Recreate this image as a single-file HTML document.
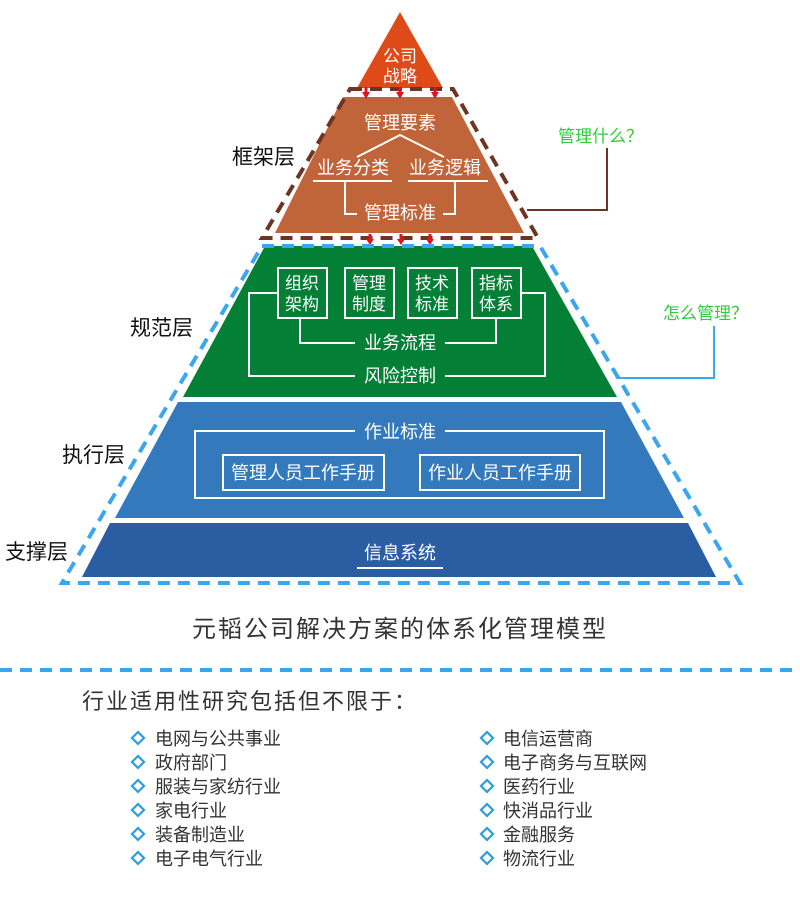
<!DOCTYPE html>
<html><head><meta charset="utf-8"><style>
html,body{margin:0;padding:0;background:#fff;}
svg{display:block;font-family:"Liberation Sans","Noto Sans CJK SC",sans-serif;}
</style></head><body>
<svg width="800" height="900" viewBox="0 0 800 900" xmlns="http://www.w3.org/2000/svg">
<polygon points="400,12 357,88 443,88" fill="#df4b18"/>
<text x="400" y="62" fill="#fff" font-size="17" text-anchor="middle">公司</text>
<text x="400" y="82" fill="#fff" font-size="17" text-anchor="middle">战略</text>
<polygon points="343,97 452,97 524,233 275,233" fill="#c0653a"/>
<polygon points="350,89 453,89 538,238 262,238" fill="none" stroke="#6b3522" stroke-width="4" stroke-dasharray="12,8"/>
<g fill="#e0141e">
<rect x="364.5" y="87" width="3" height="6"/><polygon points="362,92 370,92 366,99"/>
<rect x="398.5" y="87" width="3" height="6"/><polygon points="396,92 404,92 400,99"/>
<rect x="433.5" y="87" width="3" height="6"/><polygon points="431,92 439,92 435,99"/>
<rect x="368.5" y="234" width="3" height="6"/><polygon points="366,239 374,239 370,245"/>
<rect x="399.5" y="234" width="3" height="6"/><polygon points="397,239 405,239 401,245"/>
<rect x="428.5" y="234" width="3" height="6"/><polygon points="426,239 434,239 430,245"/>
</g>
<text x="400" y="129" fill="#fff" font-size="18" text-anchor="middle">管理要素</text>
<polyline points="357,157 400,135 444,157" fill="none" stroke="#fff" stroke-width="2"/>
<text x="353" y="174" fill="#fff" font-size="18" text-anchor="middle">业务分类</text>
<text x="445" y="174" fill="#fff" font-size="18" text-anchor="middle">业务逻辑</text>
<g stroke="#fff" stroke-width="2" fill="none">
<line x1="313" y1="181" x2="392" y2="181"/><line x1="408" y1="181" x2="488" y2="181"/>
<polyline points="345,181 345,214 357,214"/><polyline points="455,181 455,214 443,214"/>
</g>
<text x="400" y="219" fill="#fff" font-size="18" text-anchor="middle">管理标准</text>
<polyline points="527,210 607,210 607,148" fill="none" stroke="#6b3522" stroke-width="2"/>
<text x="558" y="142" fill="#2fcc3c" font-size="17">管理什么？</text>
<text x="232" y="164" fill="#111" font-size="21">框架层</text>
<polygon points="265,246 532,246 617,397 183,397" fill="#047f36"/>
<g stroke="#fff" stroke-width="2" fill="none">
<rect x="278" y="268" width="49" height="50"/><rect x="345" y="268" width="49" height="50"/>
<rect x="408" y="268" width="49" height="50"/><rect x="472" y="268" width="49" height="50"/>
<polyline points="300,318 300,343 355,343"/><polyline points="445,343 496,343 496,318"/>
<polyline points="278,293 249,293 249,376 355,376"/><polyline points="521,293 545,293 545,376 445,376"/>
</g>
<g fill="#fff" font-size="17" text-anchor="middle">
<text x="302" y="289">组织</text><text x="302" y="310">架构</text>
<text x="369" y="289">管理</text><text x="369" y="310">制度</text>
<text x="432" y="289">技术</text><text x="432" y="310">标准</text>
<text x="496" y="289">指标</text><text x="496" y="310">体系</text>
<text x="400" y="349" font-size="18">业务流程</text><text x="400" y="382" font-size="18">风险控制</text>
</g>
<polyline points="618,378 714,378 714,326" fill="none" stroke="#3ba8f0" stroke-width="2"/>
<text x="663" y="319" fill="#2fcc3c" font-size="17">怎么管理？</text>
<text x="130" y="335" fill="#111" font-size="21">规范层</text>
<polygon points="262,246 540,246 740,583 62,583" fill="none" stroke="#3aa6ee" stroke-width="4" stroke-dasharray="12,8"/>
<polygon points="178,402 621,402 684,518 115,518" fill="#3479bb"/>
<g stroke="#fff" stroke-width="2" fill="none">
<polyline points="355,431 195,431 195,498 604,498 604,431 445,431"/>
<rect x="223" y="455" width="161" height="35"/><rect x="420" y="455" width="160" height="35"/>
</g>
<g fill="#fff" font-size="18" text-anchor="middle">
<text x="400" y="438">作业标准</text>
<text x="303" y="479">管理人员工作手册</text><text x="500" y="479">作业人员工作手册</text>
</g>
<text x="62" y="462" fill="#111" font-size="21">执行层</text>
<polygon points="110,523 688,523 716,577 82,577" fill="#2a5da2"/>
<text x="400" y="559" fill="#fff" font-size="18" text-anchor="middle">信息系统</text>
<line x1="357" y1="568" x2="443" y2="568" stroke="#fff" stroke-width="2"/>
<text x="5" y="559" fill="#111" font-size="21">支撑层</text>
<text x="400" y="637" fill="#333" font-size="24" letter-spacing="2" text-anchor="middle">元韬公司解决方案的体系化管理模型</text>
<line x1="0" y1="670" x2="800" y2="670" stroke="#3aa6ee" stroke-width="4" stroke-dasharray="12,8"/>
<text x="82" y="709" fill="#333" font-size="22" letter-spacing="2">行业适用性研究包括但不限于：</text>
<g fill="none" stroke="#2a9fe0" stroke-width="2.2">
<polygon points="138,732 144,738 138,744 132,738"/><polygon points="138,756 144,762 138,768 132,762"/>
<polygon points="138,780 144,786 138,792 132,786"/><polygon points="138,804 144,810 138,816 132,810"/>
<polygon points="138,828 144,834 138,840 132,834"/><polygon points="138,852 144,858 138,864 132,858"/>
<polygon points="487,732 493,738 487,744 481,738"/><polygon points="487,756 493,762 487,768 481,762"/>
<polygon points="487,780 493,786 487,792 481,786"/><polygon points="487,804 493,810 487,816 481,810"/>
<polygon points="487,828 493,834 487,840 481,834"/><polygon points="487,852 493,858 487,864 481,858"/>
</g>
<g fill="#333" font-size="18">
<text x="155" y="745">电网与公共事业</text><text x="155" y="769">政府部门</text>
<text x="155" y="793">服装与家纺行业</text><text x="155" y="817">家电行业</text>
<text x="155" y="841">装备制造业</text><text x="155" y="865">电子电气行业</text>
<text x="503" y="745">电信运营商</text><text x="503" y="769">电子商务与互联网</text>
<text x="503" y="793">医药行业</text><text x="503" y="817">快消品行业</text>
<text x="503" y="841">金融服务</text><text x="503" y="865">物流行业</text>
</g>
</svg>
</body></html>
